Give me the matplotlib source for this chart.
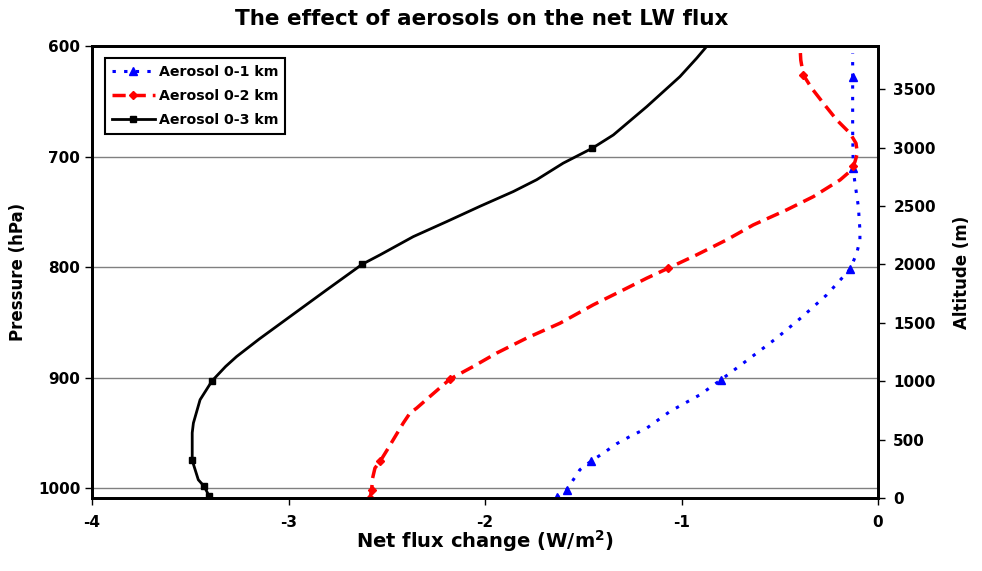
import matplotlib
matplotlib.use("Agg")
import matplotlib.pyplot as plt
from matplotlib.lines import Line2D

# ---------------- data (pressure hPa, net flux change W/m2) ----------------
# traced curves
blue_p = [1008.5, 1001.5, 983.4, 975.9, 968.4, 959.9, 953.3, 945.8, 930.7, 915.6,
          902.0, 882.4, 864.3, 845.4, 825.2, 802.0, 787.5, 775.4, 766.4, 745.3,
          724.2, 712.1, 676.0, 627.7, 606.6]
blue_x = [-1.635, -1.584, -1.517, -1.462, -1.398, -1.330, -1.262, -1.177, -1.059, -0.906,
          -0.799, -0.651, -0.516, -0.388, -0.261, -0.1425, -0.108, -0.092, -0.092, -0.100,
          -0.117, -0.126, -0.129, -0.129, -0.129]
blue_mp = [1008.5, 1001.5, 975.9, 902.0, 802.0, 710.6, 627.7]
blue_mx = [-1.635, -1.584, -1.462, -0.799, -0.1425, -0.128, -0.129]

red_p = [1009.0, 1001.5, 991.0, 981.9, 975.9, 963.8, 956.3, 941.2, 932.2, 927.7,
         917.1, 901.4, 890.0, 877.9, 864.3, 850.8, 834.2, 820.7, 810.1, 801.0,
         789.0, 775.4, 761.9, 748.3, 736.3, 721.2, 712.1, 704.6, 697.0, 688.0,
         679.0, 666.9, 651.8, 638.3, 626.2, 612.7, 600.0]
red_x = [-2.585, -2.577, -2.572, -2.560, -2.534, -2.492, -2.467, -2.416, -2.382, -2.348,
         -2.280, -2.178, -2.060, -1.941, -1.788, -1.618, -1.449, -1.296, -1.177, -1.067,
         -0.923, -0.770, -0.635, -0.465, -0.329, -0.193, -0.134, -0.117, -0.105, -0.112,
         -0.142, -0.210, -0.278, -0.337, -0.380, -0.393, -0.397]
red_mp = [1009.0, 1001.5, 975.9, 901.4, 801.0, 709.0, 626.2]
red_mx = [-2.585, -2.577, -2.534, -2.178, -1.067, -0.125, -0.380]

black_p = [1007.6, 998.5, 992.5, 975.0, 950.0, 941.2, 920.1, 903.0, 890.0, 881.0,
           865.3, 844.8, 820.7, 797.4, 789.0, 772.5, 758.9, 745.0, 731.7, 721.0,
           706.0, 692.5, 680.5, 654.9, 627.7, 611.1, 600.0]
black_x = [-3.403, -3.429, -3.459, -3.490, -3.490, -3.484, -3.450, -3.389, -3.320, -3.264,
           -3.150, -2.992, -2.806, -2.624, -2.534, -2.365, -2.195, -2.025, -1.856, -1.737,
           -1.602, -1.454, -1.347, -1.177, -1.008, -0.923, -0.870]
black_mp = [1007.6, 998.5, 975.0, 903.0, 797.4, 692.5]
black_mx = [-3.403, -3.429, -3.490, -3.389, -2.624, -1.454]

labels = ["Aerosol 0-1 km", "Aerosol 0-2 km", "Aerosol 0-3 km"]
p_ticks = [600, 700, 800, 900, 1000]
alt_ticks = [0, 500, 1000, 1500, 2000, 2500, 3000, 3500]
x_ticks = [-4, -3, -2, -1, 0]

plt.rcParams['font.family'] = ['DejaVu Sans']

BLUE_LS = (0, (1.1, 2.7))
RED_LS = (0, (3.8, 2.0))

fig = plt.figure(figsize=(9.82, 5.71), dpi=100)
ax = fig.add_axes([92/982, 1-498/571, (878-92)/982, (498-46)/571])

ax.plot(blue_x, blue_p, color='#0000FF', lw=2.2, linestyle=BLUE_LS, zorder=3)
ax.plot(blue_mx, blue_mp, color='#0000FF', lw=0, marker='^', ms=6, zorder=3)
ax.plot(red_x, red_p, color='#FF0000', lw=2.5, linestyle=RED_LS, zorder=4)
ax.plot(red_mx, red_mp, color='#FF0000', lw=0, marker='D', ms=4, zorder=4)
ax.plot(black_x, black_p, color='black', lw=2.0, zorder=5, solid_joinstyle='round')
ax.plot(black_mx, black_mp, color='black', lw=0, marker='s', ms=5, zorder=5)

h1 = Line2D([], [], color='#0000FF', lw=2.2, linestyle=BLUE_LS, marker='^', ms=6)
h2 = Line2D([], [], color='#FF0000', lw=2.5, linestyle=RED_LS, marker='D', ms=4)
h3 = Line2D([], [], color='black', lw=2.0, marker='s', ms=5)
leg = ax.legend([h1, h2, h3], labels, loc='upper left',
                bbox_to_anchor=(0.0165, 0.973), fancybox=False, framealpha=1,
                edgecolor='black', handlelength=3.0, handletextpad=0.3,
                labelspacing=0.7, borderpad=0.5, borderaxespad=0,
                prop={'family': 'DejaVu Sans', 'weight': 'bold', 'size': 10.2})
leg.get_frame().set_linewidth(1.5)

ax.set_xlim(-4, 0)
ax.set_ylim(1009, 600)
ax.set_xticks(x_ticks)
ax.set_xticklabels([str(v) for v in x_ticks])
ax.set_yticks(p_ticks)
ax.grid(axis='y', color='#808080', lw=1.0)
ax.set_axisbelow(True)
for s in ax.spines.values():
    s.set_linewidth(2)
ax.tick_params(axis='both', direction='out', length=5, width=1, labelsize=11)
ax.tick_params(axis='x', pad=7)
for t in ax.get_xticklabels() + ax.get_yticklabels():
    t.set_fontweight('bold')

ax2 = ax.twinx()
ax2.set_ylim(0, 3870)
ax2.set_yticks(alt_ticks)
ax2.tick_params(axis='y', direction='out', length=5, width=1, labelsize=11, pad=6)
for t in ax2.get_yticklabels():
    t.set_fontweight('bold')
for s in ax2.spines.values():
    s.set_linewidth(2)

ax.set_ylabel("Pressure (hPa)", fontsize=12, fontweight='bold', labelpad=8)
ax2.set_ylabel("Altitude (m)", fontsize=12, fontweight='bold', labelpad=12)
fig.text(485/982, 1-541/571, "Net flux change (W/m$^\\mathbf{2}$)",
         ha='center', va='center', fontsize=14, fontweight='bold')
fig.text(482/982, 1-19/571, "The effect of aerosols on the net LW flux",
         ha='center', va='center', fontsize=15.5, fontweight='bold')

fig.savefig("out.png", dpi=100)
